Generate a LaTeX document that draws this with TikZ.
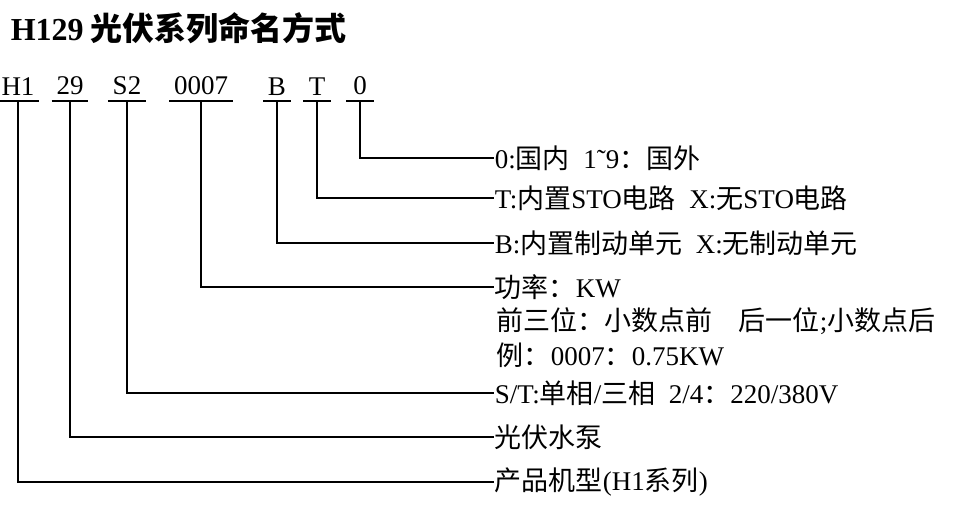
\documentclass[tikz,border=0pt]{standalone}
\usepackage{fontspec}
\setmainfont[WordSpace=2]{Liberation Serif}
\newfontfamily\cjk{Noto Sans CJK SC}
\newcommand{\zh}[1]{{\cjk #1}}
\usetikzlibrary{positioning}

\begin{document}
\begin{tikzpicture}[x=1pt, y=-1pt, line width=1.6pt,
    codetext/.style={anchor=south, inner xsep=4pt, inner ysep=5pt, minimum width=26pt, font=\fontsize{27}{30}\selectfont},
    desc/.style={anchor=west, inner sep=0pt, font=\fontsize{27}{30}\selectfont}]
    \useasboundingbox (0,0) rectangle (963,517);

    \node (title) [anchor=west, inner sep=0pt, font=\fontsize{32}{36}\selectfont\bfseries] at (10,28) {H129\hspace{7pt}\zh{光伏系列命名方式}};

    % code fields
    \node (h1) [codetext] at (18,101) {H1};
    \node (n29) [codetext] at (70,101) {29};
    \node (s2) [codetext] at (127,101) {S2};
    \node (pw) [codetext] at (201,101) {0007};
    \node (brk) [codetext] at (277,101) {B};
    \node (sto) [codetext] at (317,101) {T};
    \node (reg) [codetext] at (360,101) {0};

    % descriptions
    \node (reglab) [desc] at (494,158) {0:\zh{国内} 1˜9\zh{：国外}};
    \node (stolab) [desc] at (494,198) {T:\zh{内置}STO\zh{电路} X:\zh{无}STO\zh{电路}};
    \node (brklab) [desc] at (494,243) {B:\zh{内置制动单元} X:\zh{无制动单元}};
    \node (pwlab) [desc] at (494,287) {\zh{功率：}KW};
    \node (pwlab2) [desc] at (496,321) {\zh{前三位：小数点前}\hspace{26pt}\zh{后一位};\zh{小数点后}};
    \node (pwlab3) [desc] at (496,355) {\zh{例：}0007\zh{：}0.75KW};
    \node (s2lab) [desc] at (494,393) {S/T:\zh{单相}/\zh{三相} 2/4\zh{：}220/380V};
    \node (n29lab) [desc] at (494,437) {\zh{光伏水泵}};
    \node (h1lab) [desc] at (494,482) {\zh{产品机型}(H1\zh{系列})};

    \foreach \c in {h1, n29, s2, pw, brk, sto, reg}
    {
        \draw (\c.south west) -- (\c.south east);
        \draw (\c.south) |- (\c lab.west);
    }
\end{tikzpicture}
\end{document}
